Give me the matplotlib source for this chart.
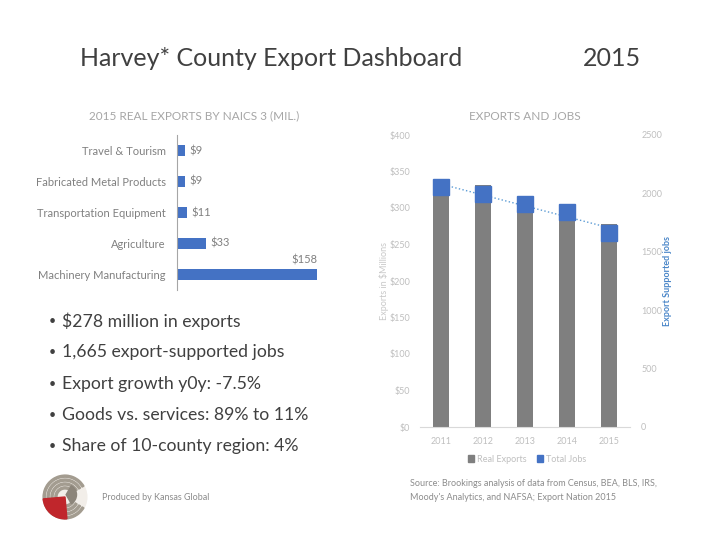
"""Harvey County export dashboard, 2015"""

import numpy as np
import matplotlib
matplotlib.use('Agg')
import matplotlib.pyplot as plt
from matplotlib.patches import Wedge, Circle, Patch

plt.rcParams['font.family'] = ['Lato', 'DejaVu Sans']

# Data
industries = ['Machinery Manufacturing', 'Agriculture', 'Transportation Equipment',
              'Fabricated Metal Products', 'Travel & Tourism']
industry_exports = [158, 33, 11, 9, 9]

years = ['2011', '2012', '2013', '2014', '2015']
real_exports = [337, 332, 314, 302, 278]
total_jobs = [2055, 1995, 1909, 1841, 1665]

bullets = ['$278 million in exports',
           '1,665 export-supported jobs',
           'Export growth y0y: -7.5%',
           'Goods vs. services: 89% to 11%',
           'Share of 10-county region: 4%']

W, H = 720, 540
fig = plt.figure(figsize=(7.2, 5.4), dpi=100)
fig.patch.set_facecolor('white')


def fx(px):
    return px / W


def fy(py):
    return 1 - py / H


BLUE = '#4472c4'
LIGHT = '#bfbfbf'
TITLE_GRAY = '#a6a6a6'

# Header
fig.text(fx(80), fy(58), 'Harvey* County Export Dashboard', fontsize=18,
         color='#404040', va='center', ha='left')
fig.text(fx(583), fy(58), '2015', fontsize=18, color='#404040', va='center', ha='left')

# Left chart: exports by industry
ax1 = fig.add_axes([fx(177), fy(290), (317 - 177) / 158 * 170 / W, 155 / H])
y = np.arange(len(industries))
ax1.barh(y, industry_exports, height=0.33, color=BLUE)
ax1.set_xlim(0, 170)
ax1.set_ylim(-0.5, len(industries) - 0.5)
ax1.set_yticks(y)
ax1.set_yticklabels(industries, fontsize=8, color='#808080')
ax1.tick_params(axis='y', length=0, pad=8)
ax1.set_xticks([])
for s in ['top', 'right', 'bottom']:
    ax1.spines[s].set_visible(False)
ax1.spines['left'].set_color('#a6a6a6')
for i, v in enumerate(industry_exports):
    if v == max(industry_exports):
        ax1.text(v, i + 0.3, '$%d' % v, fontsize=8, color='#808080',
                 ha='right', va='bottom')
    else:
        ax1.text(v + 5, i, '$%d' % v, fontsize=8, color='#808080',
                 ha='left', va='center')
fig.text(fx(194), fy(116), '2015 REAL EXPORTS BY NAICS 3 (MIL.)', fontsize=8.5,
         color=TITLE_GRAY, ha='center', va='center')

# Right chart: exports and jobs
ax2 = fig.add_axes([fx(420), fy(427), 210 / W, 292 / H])
x = np.arange(len(years))
ax2.bar(x, real_exports, width=0.38, color='#7f7f7f', zorder=2)
ax2.set_xlim(-0.5, len(years) - 0.5)
ax2.set_ylim(0, 400)
ax2.set_yticks(range(0, 401, 50))
ax2.set_yticklabels(['$%d' % t for t in range(0, 401, 50)], fontsize=6.5, color=LIGHT)
ax2.set_xticks(x)
ax2.set_xticklabels(years, fontsize=6.5, color=LIGHT)
ax2.tick_params(length=0, pad=7)
for s in ['top', 'right', 'left']:
    ax2.spines[s].set_visible(False)
ax2.spines['bottom'].set_color('#d9d9d9')
ax2.set_ylabel('Exports in $Millions', fontsize=6.5, color='#c8c8c8', labelpad=0)

ax3 = ax2.twinx()
ax3.plot(x, total_jobs, 's', color=BLUE, markersize=11.5, zorder=3)
fit = np.polyfit(x, total_jobs, 1)
ax3.plot(x, np.polyval(fit, x), ':', color='#5b9bd5', linewidth=1, zorder=2)
ax3.set_ylim(0, 2500)
ax3.set_yticks(range(0, 2501, 500))
ax3.set_yticklabels([str(t) for t in range(0, 2501, 500)], fontsize=6.5, color=LIGHT)
ax3.tick_params(length=0, pad=8)
for s in ax3.spines.values():
    s.set_visible(False)
ax3.set_ylabel('Export Supported jobs', fontsize=6.5, color='#4a86c8',
               fontweight='bold', labelpad=1)
fig.text(fx(525), fy(116), 'EXPORTS AND JOBS', fontsize=8.5, color=TITLE_GRAY,
         ha='center', va='center')

handles = [Patch(color='#7f7f7f', label='Real Exports'), Patch(color=BLUE, label='Total Jobs')]
fig.legend(handles=handles, loc='center', bbox_to_anchor=(fx(527), fy(459)),
           ncol=2, frameon=False, fontsize=6.5, labelcolor=LIGHT,
           handlelength=0.7, handleheight=0.7, handletextpad=0.3, columnspacing=1.2)

# Bullet points
for i, b in enumerate(bullets):
    yy = 321 + i * 31.3
    fig.text(fx(49), fy(yy), '•', fontsize=9, color='#404040', va='center')
    fig.text(fx(62), fy(yy), b, fontsize=12.7, color='#404040', va='center')

# Logo (simple globe mark)
lax = fig.add_axes([fx(42), fy(520), 46 / W, 46 / H])
lax.set_xlim(-1, 1)
lax.set_ylim(-1, 1)
lax.set_aspect('equal')
lax.axis('off')
lax.add_patch(Circle((0, 0), 0.95, color='#f2eee9'))
for r in [0.95, 0.78, 0.61, 0.44]:
    lax.add_patch(Wedge((0, 0), r, 30, 330, width=0.09, color='#a39c90'))
lax.add_patch(Wedge((0, 0), 0.95, 185, 275, color='#c0262c'))
lax.add_patch(Wedge((0.05, 0.1), 0.45, 300, 60, color='#8c857a'))

fig.text(fx(102), fy(497), 'Produced by Kansas Global', fontsize=6.5, color='#8c8c8c',
         va='center')
fig.text(fx(410), fy(484), 'Source: Brookings analysis of data from Census, BEA, BLS, IRS,',
         fontsize=6.5, color='#8c8c8c', va='center')
fig.text(fx(410), fy(497), "Moody's Analytics, and NAFSA; Export Nation 2015",
         fontsize=6.5, color='#8c8c8c', va='center')

fig.savefig('out.png', dpi=100, facecolor='white')
